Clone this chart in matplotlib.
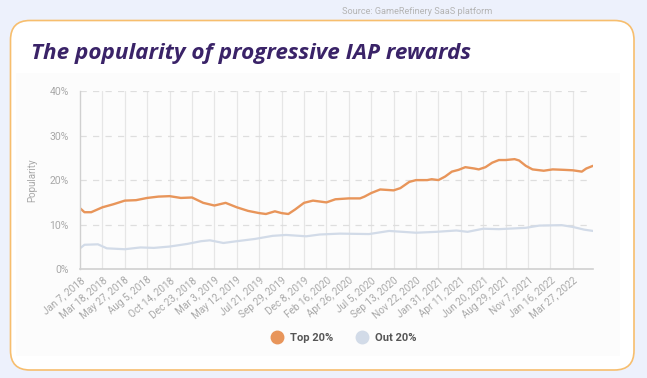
import matplotlib
matplotlib.use("Agg")
import matplotlib.pyplot as plt
from matplotlib.patches import FancyBboxPatch, Rectangle
from matplotlib.lines import Line2D

# week offsets from Jan 7, 2018 and values (%)
top_weeks = [0, 2, 5, 10, 15, 20, 25, 30, 35, 40, 45, 50, 55, 60, 65, 70, 75, 80, 83, 87,
             90, 93, 96, 100, 104, 110, 114, 120, 125, 127, 130, 134, 140, 143, 147, 150,
             155, 157, 160, 163, 166, 169, 172, 176, 178, 181, 184, 187, 190, 194, 196,
             199, 202, 207, 211, 216, 220, 224, 226, 229]
top_vals = [13.7, 12.8, 12.8, 13.9, 14.6, 15.4, 15.5, 16.0, 16.3, 16.4, 16.0, 16.1, 14.9,
            14.3, 14.9, 13.9, 13.1, 12.6, 12.4, 13.0, 12.6, 12.4, 13.4, 14.9, 15.4, 15.0,
            15.7, 15.9, 15.9, 16.3, 17.1, 17.9, 17.7, 18.2, 19.6, 20.0, 20.0, 20.2, 20.0,
            20.8, 21.9, 22.3, 22.9, 22.6, 22.4, 22.9, 23.9, 24.5, 24.5, 24.7, 24.4, 23.2,
            22.4, 22.1, 22.4, 22.3, 22.2, 21.9, 22.6, 23.2]

out_weeks = [0, 2, 8, 12, 20, 27, 33, 40, 48, 54, 58, 64, 70, 78, 86, 92, 101, 107, 116,
             129, 138, 150, 159, 168, 173, 180, 187, 199, 205, 215, 220, 225, 229]
out_vals = [4.7, 5.5, 5.6, 4.7, 4.5, 4.9, 4.8, 5.1, 5.7, 6.3, 6.5, 5.9, 6.3, 6.8, 7.5, 7.7,
            7.4, 7.8, 8.0, 7.9, 8.6, 8.2, 8.4, 8.7, 8.4, 9.1, 9.0, 9.3, 9.8, 9.9, 9.5, 8.9, 8.6]

tick_weeks = list(range(0, 221, 10))
tick_labels = ["Jan 7, 2018", "Mar 18, 2018", "May 27, 2018", "Aug 5, 2018", "Oct 14, 2018",
               "Dec 23, 2018", "Mar 3, 2019", "May 12, 2019", "Jul 21, 2019", "Sep 29, 2019",
               "Dec 8, 2019", "Feb 16, 2020", "Apr 26, 2020", "Jul 5, 2020", "Sep 13, 2020",
               "Nov 22, 2020", "Jan 31, 2021", "Apr 11, 2021", "Jun 20, 2021", "Aug 29, 2021",
               "Nov 7, 2021", "Jan 16, 2022", "Mar 27, 2022"]
y_ticks = [0, 10, 20, 30, 40]

c_top = "#E8955A"
c_out = "#D2DBE8"
c_grid = "#E6E6E6"
c_text = "#A8A8A8"

W, H = 647, 378
fig = plt.figure(figsize=(W / 100, H / 100), dpi=100)
fig.patch.set_facecolor("#EDF1FC")

# white card with orange border
card = FancyBboxPatch((10.5 / W, 1 - 370 / H), 623.5 / W, 349.5 / H,
                      boxstyle="round,pad=0,rounding_size=0.03",
                      transform=fig.transFigure, facecolor="white",
                      edgecolor="#F7BE6E", linewidth=1.2, mutation_aspect=W / H, zorder=-2)
fig.patches.append(card)
panel = Rectangle((16 / W, 1 - 356 / H), 604 / W, 283 / H, transform=fig.transFigure,
                  facecolor="#FCFCFC", edgecolor="none", zorder=-1)
fig.patches.append(panel)

fig.text(492 / W, 1 - 11 / H, "Source: GameRefinery SaaS platform", ha="right", va="center",
         fontsize=6.6, color="#B4B4B4", family="Roboto")
fig.text(31 / W, 1 - 54 / H, "The popularity of progressive IAP rewards", ha="left",
         va="center", fontsize=16.2, fontweight="bold", fontstyle="italic",
         color="#3A2368", family="Open Sans")

ax = fig.add_axes([80 / W, 1 - 269.3 / H, 513 / W, 178.4 / H])
ax.set_zorder(3)
ax.set_facecolor("none")
ax.plot(out_weeks, out_vals, color=c_out, lw=1.6, solid_capstyle="round")
ax.plot(top_weeks, top_vals, color=c_top, lw=1.7, solid_capstyle="round")

ax.set_xlim(0, 229)
ax.set_ylim(0, 40)
ax.set_xticks(tick_weeks)
ax.set_xticklabels(tick_labels, rotation=40, ha="right", rotation_mode="anchor",
                   fontsize=7.2, color=c_text, family="Roboto")
ax.set_yticks(y_ticks)
ax.set_yticklabels([f"{v}%" for v in y_ticks], fontsize=7.5, color=c_text, family="Roboto")
ax.tick_params(axis="y", length=0, pad=8)
ax.tick_params(axis="x", length=0, pad=4)
ax.set_ylabel("Popularity", fontsize=7, color=c_text, family="Roboto", labelpad=9)

for w in tick_weeks[1:]:
    ax.axvline(w, color=c_grid, lw=0.9, zorder=0)
for v in y_ticks[1:]:
    ax.axhline(v, color="#DEDEDE", lw=0.9, ls=(0, (5, 5)), zorder=0)
for s in ["top", "right"]:
    ax.spines[s].set_visible(False)
ax.spines["left"].set_color("#D0D0D0")
ax.spines["bottom"].set_color("#D0D0D0")
ax.spines["left"].set_linewidth(1.0)
ax.spines["bottom"].set_linewidth(1.2)

handles = [Line2D([], [], marker="o", ls="none", color=c_top, markersize=9),
           Line2D([], [], marker="o", ls="none", color=c_out, markersize=9)]
fig.legend(handles, ["Top 20%", "Out 20%"], loc="center", bbox_to_anchor=(341 / W, 1 - 338 / H),
           ncol=2, frameon=False, handletextpad=0.15, columnspacing=1.6,
           prop={"family": "Roboto", "weight": "bold", "size": 8}, labelcolor="#555555")

fig.savefig("out.png", dpi=100, facecolor=fig.get_facecolor())
